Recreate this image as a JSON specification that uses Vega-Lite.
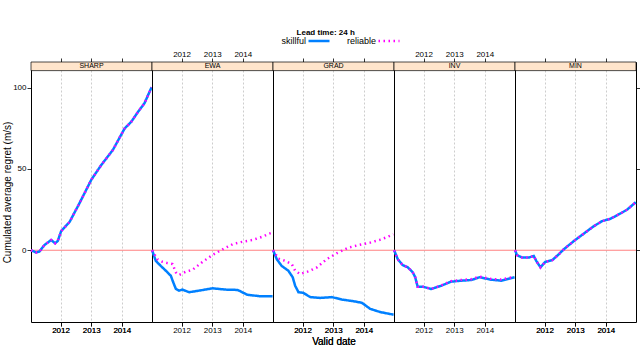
{
  "$schema": "https://vega.github.io/schema/vega-lite/v6.json",
  "autosize": {"type": "pad"},
  "padding": {"left": 2, "top": 29, "right": 0, "bottom": 0},
  "title": {"text": "Lead time: 24 h", "font": "Liberation Sans", "fontSize": 8, "fontWeight": "bold", "color": "#000", "anchor": "middle", "dx": 4, "offset": -8},
  "datasets": {
    "main": [
      {"m":"SHARP","t":"skillful","d":"2011-01-15","v":0},
      {"m":"SHARP","t":"skillful","d":"2011-03-16","v":-1.4},
      {"m":"SHARP","t":"skillful","d":"2011-04-24","v":-0.8},
      {"m":"SHARP","t":"skillful","d":"2011-06-23","v":3.2},
      {"m":"SHARP","t":"skillful","d":"2011-09-11","v":6.3},
      {"m":"SHARP","t":"skillful","d":"2011-10-29","v":4.3},
      {"m":"SHARP","t":"skillful","d":"2011-11-29","v":5.7},
      {"m":"SHARP","t":"skillful","d":"2012-01-09","v":11.8},
      {"m":"SHARP","t":"skillful","d":"2012-04-17","v":17.3},
      {"m":"SHARP","t":"skillful","d":"2012-08-15","v":29},
      {"m":"SHARP","t":"skillful","d":"2013-01-02","v":43.3},
      {"m":"SHARP","t":"skillful","d":"2013-05-01","v":52.4},
      {"m":"SHARP","t":"skillful","d":"2013-09-16","v":61.6},
      {"m":"SHARP","t":"skillful","d":"2014-02-03","v":74.8},
      {"m":"SHARP","t":"skillful","d":"2014-04-23","v":78.9},
      {"m":"SHARP","t":"skillful","d":"2014-07-11","v":84.9},
      {"m":"SHARP","t":"skillful","d":"2014-09-29","v":90.4},
      {"m":"SHARP","t":"skillful","d":"2014-12-22","v":100.2},
      {"m":"SHARP","t":"reliable","d":"2011-01-15","v":0},
      {"m":"SHARP","t":"reliable","d":"2011-03-16","v":-1.4},
      {"m":"SHARP","t":"reliable","d":"2011-04-24","v":-0.8},
      {"m":"SHARP","t":"reliable","d":"2011-06-23","v":3.2},
      {"m":"SHARP","t":"reliable","d":"2011-09-11","v":6.3},
      {"m":"SHARP","t":"reliable","d":"2011-10-29","v":4.3},
      {"m":"SHARP","t":"reliable","d":"2011-11-29","v":5.7},
      {"m":"SHARP","t":"reliable","d":"2012-01-09","v":11.8},
      {"m":"SHARP","t":"reliable","d":"2012-04-17","v":17.3},
      {"m":"SHARP","t":"reliable","d":"2012-08-15","v":29},
      {"m":"SHARP","t":"reliable","d":"2013-01-02","v":43.3},
      {"m":"SHARP","t":"reliable","d":"2013-05-01","v":52.4},
      {"m":"SHARP","t":"reliable","d":"2013-09-16","v":61.6},
      {"m":"SHARP","t":"reliable","d":"2014-02-03","v":74.8},
      {"m":"SHARP","t":"reliable","d":"2014-04-23","v":78.9},
      {"m":"SHARP","t":"reliable","d":"2014-07-11","v":84.9},
      {"m":"SHARP","t":"reliable","d":"2014-09-29","v":90.4},
      {"m":"SHARP","t":"reliable","d":"2014-12-22","v":100.2},

      {"m":"EWA","t":"skillful","d":"2011-01-15","v":0},
      {"m":"EWA","t":"skillful","d":"2011-02-28","v":-6.5},
      {"m":"EWA","t":"skillful","d":"2011-04-28","v":-9.6},
      {"m":"EWA","t":"skillful","d":"2011-06-28","v":-12.6},
      {"m":"EWA","t":"skillful","d":"2011-08-27","v":-15.7},
      {"m":"EWA","t":"skillful","d":"2011-09-24","v":-19.7},
      {"m":"EWA","t":"skillful","d":"2011-10-26","v":-23.8},
      {"m":"EWA","t":"skillful","d":"2011-12-03","v":-24.8},
      {"m":"EWA","t":"skillful","d":"2012-01-12","v":-24.2},
      {"m":"EWA","t":"skillful","d":"2012-04-01","v":-25.8},
      {"m":"EWA","t":"skillful","d":"2012-07-31","v":-24.8},
      {"m":"EWA","t":"skillful","d":"2013-01-06","v":-23.4},
      {"m":"EWA","t":"skillful","d":"2013-06-14","v":-24.2},
      {"m":"EWA","t":"skillful","d":"2013-10-30","v":-24.4},
      {"m":"EWA","t":"skillful","d":"2014-02-26","v":-27.4},
      {"m":"EWA","t":"skillful","d":"2014-07-16","v":-28.2},
      {"m":"EWA","t":"skillful","d":"2014-12-22","v":-28.2},
      {"m":"EWA","t":"reliable","d":"2011-01-15","v":0},
      {"m":"EWA","t":"reliable","d":"2011-03-19","v":-5.5},
      {"m":"EWA","t":"reliable","d":"2011-05-19","v":-7.1},
      {"m":"EWA","t":"reliable","d":"2011-07-16","v":-7.9},
      {"m":"EWA","t":"reliable","d":"2011-09-16","v":-8.5},
      {"m":"EWA","t":"reliable","d":"2011-10-26","v":-13.6},
      {"m":"EWA","t":"reliable","d":"2011-12-03","v":-15.2},
      {"m":"EWA","t":"reliable","d":"2012-02-20","v":-13.2},
      {"m":"EWA","t":"reliable","d":"2012-05-11","v":-12},
      {"m":"EWA","t":"reliable","d":"2012-09-09","v":-7.1},
      {"m":"EWA","t":"reliable","d":"2013-01-06","v":-2.9},
      {"m":"EWA","t":"reliable","d":"2013-05-05","v":0.6},
      {"m":"EWA","t":"reliable","d":"2013-09-02","v":3.7},
      {"m":"EWA","t":"reliable","d":"2013-12-09","v":5.0},
      {"m":"EWA","t":"reliable","d":"2014-04-27","v":6.3},
      {"m":"EWA","t":"reliable","d":"2014-08-26","v":8.4},
      {"m":"EWA","t":"reliable","d":"2014-11-10","v":10.2},
      {"m":"EWA","t":"reliable","d":"2014-12-20","v":10.9},

      {"m":"GRAD","t":"skillful","d":"2011-01-15","v":0},
      {"m":"GRAD","t":"skillful","d":"2011-02-28","v":-5.5},
      {"m":"GRAD","t":"skillful","d":"2011-04-27","v":-9.6},
      {"m":"GRAD","t":"skillful","d":"2011-07-16","v":-12.6},
      {"m":"GRAD","t":"skillful","d":"2011-09-06","v":-16.6},
      {"m":"GRAD","t":"skillful","d":"2011-10-05","v":-21.8},
      {"m":"GRAD","t":"skillful","d":"2011-11-14","v":-25.8},
      {"m":"GRAD","t":"skillful","d":"2012-01-11","v":-26.2},
      {"m":"GRAD","t":"skillful","d":"2012-04-02","v":-28.8},
      {"m":"GRAD","t":"skillful","d":"2012-07-31","v":-29.3},
      {"m":"GRAD","t":"skillful","d":"2012-12-17","v":-28.8},
      {"m":"GRAD","t":"skillful","d":"2013-04-13","v":-30.3},
      {"m":"GRAD","t":"skillful","d":"2013-08-29","v":-31.3},
      {"m":"GRAD","t":"skillful","d":"2013-12-09","v":-32.3},
      {"m":"GRAD","t":"skillful","d":"2014-03-18","v":-36},
      {"m":"GRAD","t":"skillful","d":"2014-07-16","v":-38},
      {"m":"GRAD","t":"skillful","d":"2014-12-22","v":-39.6},
      {"m":"GRAD","t":"reliable","d":"2011-01-15","v":0},
      {"m":"GRAD","t":"reliable","d":"2011-03-18","v":-5.1},
      {"m":"GRAD","t":"reliable","d":"2011-06-07","v":-6.5},
      {"m":"GRAD","t":"reliable","d":"2011-08-26","v":-8.5},
      {"m":"GRAD","t":"reliable","d":"2011-10-05","v":-12.6},
      {"m":"GRAD","t":"reliable","d":"2011-12-02","v":-14.6},
      {"m":"GRAD","t":"reliable","d":"2012-03-11","v":-13},
      {"m":"GRAD","t":"reliable","d":"2012-06-21","v":-10.5},
      {"m":"GRAD","t":"reliable","d":"2012-10-16","v":-5.5},
      {"m":"GRAD","t":"reliable","d":"2013-02-14","v":-1.8},
      {"m":"GRAD","t":"reliable","d":"2013-07-02","v":1.6},
      {"m":"GRAD","t":"reliable","d":"2013-10-31","v":3.2},
      {"m":"GRAD","t":"reliable","d":"2014-03-18","v":4.7},
      {"m":"GRAD","t":"reliable","d":"2014-07-16","v":6.5},
      {"m":"GRAD","t":"reliable","d":"2014-10-01","v":8},
      {"m":"GRAD","t":"reliable","d":"2014-12-20","v":9.8},

      {"m":"INV","t":"skillful","d":"2011-01-15","v":0},
      {"m":"INV","t":"skillful","d":"2011-02-28","v":-5.5},
      {"m":"INV","t":"skillful","d":"2011-04-27","v":-9.1},
      {"m":"INV","t":"skillful","d":"2011-06-28","v":-10.5},
      {"m":"INV","t":"skillful","d":"2011-08-26","v":-13.6},
      {"m":"INV","t":"skillful","d":"2011-09-24","v":-16.6},
      {"m":"INV","t":"skillful","d":"2011-10-23","v":-22.4},
      {"m":"INV","t":"skillful","d":"2011-12-24","v":-22.4},
      {"m":"INV","t":"skillful","d":"2012-04-02","v":-23.8},
      {"m":"INV","t":"skillful","d":"2012-07-31","v":-21.8},
      {"m":"INV","t":"skillful","d":"2012-11-24","v":-19.3},
      {"m":"INV","t":"skillful","d":"2013-03-26","v":-18.7},
      {"m":"INV","t":"skillful","d":"2013-07-24","v":-18.3},
      {"m":"INV","t":"skillful","d":"2013-10-31","v":-16.6},
      {"m":"INV","t":"skillful","d":"2014-03-18","v":-18.1},
      {"m":"INV","t":"skillful","d":"2014-07-16","v":-18.7},
      {"m":"INV","t":"skillful","d":"2014-12-22","v":-16.6},
      {"m":"INV","t":"reliable","d":"2011-01-15","v":0},
      {"m":"INV","t":"reliable","d":"2011-02-28","v":-5.5},
      {"m":"INV","t":"reliable","d":"2011-04-27","v":-9.1},
      {"m":"INV","t":"reliable","d":"2011-06-28","v":-10.5},
      {"m":"INV","t":"reliable","d":"2011-08-26","v":-13.6},
      {"m":"INV","t":"reliable","d":"2011-09-24","v":-16.6},
      {"m":"INV","t":"reliable","d":"2011-10-23","v":-22.4},
      {"m":"INV","t":"reliable","d":"2011-12-24","v":-22.4},
      {"m":"INV","t":"reliable","d":"2012-04-02","v":-23.8},
      {"m":"INV","t":"reliable","d":"2012-07-31","v":-21.6},
      {"m":"INV","t":"reliable","d":"2012-11-24","v":-19.0},
      {"m":"INV","t":"reliable","d":"2013-03-26","v":-18.3},
      {"m":"INV","t":"reliable","d":"2013-07-24","v":-17.8},
      {"m":"INV","t":"reliable","d":"2013-10-31","v":-16.2},
      {"m":"INV","t":"reliable","d":"2014-03-18","v":-17.6},
      {"m":"INV","t":"reliable","d":"2014-07-16","v":-18.0},
      {"m":"INV","t":"reliable","d":"2014-12-22","v":-16.2},

      {"m":"MIN","t":"skillful","d":"2011-01-15","v":0},
      {"m":"MIN","t":"skillful","d":"2011-02-06","v":-3},
      {"m":"MIN","t":"skillful","d":"2011-04-09","v":-4.5},
      {"m":"MIN","t":"skillful","d":"2011-06-28","v":-4.5},
      {"m":"MIN","t":"skillful","d":"2011-08-26","v":-3.5},
      {"m":"MIN","t":"skillful","d":"2011-09-24","v":-6.5},
      {"m":"MIN","t":"skillful","d":"2011-11-14","v":-10.5},
      {"m":"MIN","t":"skillful","d":"2012-01-11","v":-7.1},
      {"m":"MIN","t":"skillful","d":"2012-04-02","v":-6.1},
      {"m":"MIN","t":"skillful","d":"2012-06-21","v":-2.4},
      {"m":"MIN","t":"skillful","d":"2012-08-18","v":0.6},
      {"m":"MIN","t":"skillful","d":"2012-12-17","v":5.7},
      {"m":"MIN","t":"skillful","d":"2013-04-13","v":10.2},
      {"m":"MIN","t":"skillful","d":"2013-08-11","v":14.8},
      {"m":"MIN","t":"skillful","d":"2013-11-18","v":17.9},
      {"m":"MIN","t":"skillful","d":"2014-02-24","v":19.3},
      {"m":"MIN","t":"skillful","d":"2014-06-25","v":22.6},
      {"m":"MIN","t":"skillful","d":"2014-09-13","v":25},
      {"m":"MIN","t":"skillful","d":"2014-12-24","v":29.5},
      {"m":"MIN","t":"reliable","d":"2011-01-15","v":0},
      {"m":"MIN","t":"reliable","d":"2011-02-06","v":-3},
      {"m":"MIN","t":"reliable","d":"2011-04-09","v":-4.5},
      {"m":"MIN","t":"reliable","d":"2011-06-28","v":-4.5},
      {"m":"MIN","t":"reliable","d":"2011-08-26","v":-3.5},
      {"m":"MIN","t":"reliable","d":"2011-09-24","v":-6.5},
      {"m":"MIN","t":"reliable","d":"2011-11-14","v":-10.5},
      {"m":"MIN","t":"reliable","d":"2012-01-11","v":-7.1},
      {"m":"MIN","t":"reliable","d":"2012-04-02","v":-6.1},
      {"m":"MIN","t":"reliable","d":"2012-06-21","v":-2.4},
      {"m":"MIN","t":"reliable","d":"2012-08-18","v":0.6},
      {"m":"MIN","t":"reliable","d":"2012-12-17","v":5.7},
      {"m":"MIN","t":"reliable","d":"2013-04-13","v":10.2},
      {"m":"MIN","t":"reliable","d":"2013-08-11","v":14.8},
      {"m":"MIN","t":"reliable","d":"2013-11-18","v":17.9},
      {"m":"MIN","t":"reliable","d":"2014-02-24","v":19.3},
      {"m":"MIN","t":"reliable","d":"2014-06-25","v":22.6},
      {"m":"MIN","t":"reliable","d":"2014-09-13","v":25},
      {"m":"MIN","t":"reliable","d":"2014-12-24","v":29.5}
    ]
  },
  "data": {"name": "main"},
  "spacing": 0,
  "bounds": "flush",
  "resolve": {"scale": {"color": "shared", "strokeDash": "shared"}, "legend": {"color": "shared", "strokeDash": "shared"}},
  "hconcat": [
    {
      "width": 121, "height": 260,
      "layer": [
        {"data": {"values": [{"label": "SHARP"}]},
         "mark": {"type": "rect", "fill": "#ffe5cc", "stroke": "#000", "strokeWidth": 0.7},
         "encoding": {
           "x": {"datum": {"year": 2011, "month": 1, "date": 14, "utc": true}, "type": "temporal",
                 "scale": {"type": "utc", "domain": [{"year": 2011, "month": 1, "date": 14, "utc": true}, {"year": 2014, "month": 12, "date": 27, "utc": true}]},
                 "axis": {"orient": "top", "labels": false, "title": null, "grid": false, "values": [{"year": 2012, "month": 1, "date": 1, "utc": true}, {"year": 2013, "month": 1, "date": 1, "utc": true}, {"year": 2014, "month": 1, "date": 1, "utc": true}]}},
           "x2": {"datum": {"year": 2014, "month": 12, "date": 27, "utc": true}},
           "y": {"datum": 110.4, "type": "quantitative", "scale": {"domain": [-44.1, 115.7], "nice": false, "zero": false},
                 "axis": {"orient": "left", "values": [0, 50, 100], "title": "Cumulated average regret (m/s)", "titlePadding": 0, "labelPadding": 1}},
           "y2": {"datum": 115.7}
         }},
        {"data": {"values": [{"label": "SHARP"}]},
         "mark": {"type": "text", "font": "Liberation Sans", "fontSize": 7, "color": "#000", "baseline": "middle"},
         "encoding": {"text": {"field": "label"}, "y": {"datum": 113.05, "type": "quantitative"}}},
        {"data": {"values": [{}]},
         "mark": {"type": "rule", "color": "#ff8080", "strokeWidth": 1},
         "encoding": {"y": {"datum": 0, "type": "quantitative"}}},
        {"transform": [{"filter": "datum.m === 'SHARP' && datum.t === 'skillful'"}],
         "mark": {"type": "line", "strokeWidth": 2.5},
         "encoding": {
           "x": {"field": "d", "type": "temporal", "title": null, "axis": {"orient": "bottom", "title": null, "format": "%Y", "grid": true, "values": [{"year": 2012, "month": 1, "date": 1, "utc": true}, {"year": 2013, "month": 1, "date": 1, "utc": true}, {"year": 2014, "month": 1, "date": 1, "utc": true}]}},
           "y": {"field": "v", "type": "quantitative"},
           "color": {"field": "t", "type": "nominal", "title": null, "scale": {"domain": ["skillful", "reliable"], "range": ["#0080ff", "#ff00ff"]}},
           "strokeDash": {"field": "t", "type": "nominal", "title": null, "scale": {"domain": ["skillful", "reliable"], "range": [[1, 0], [1.5, 3.5]]}}
         }},
        {"transform": [{"filter": "datum.m === 'SHARP' && datum.t === 'reliable'"}],
         "mark": {"type": "line", "strokeWidth": 2.5},
         "encoding": {
           "x": {"field": "d", "type": "temporal", "title": null},
           "y": {"field": "v", "type": "quantitative"},
           "color": {"field": "t", "type": "nominal", "title": null},
           "strokeDash": {"field": "t", "type": "nominal", "title": null}
         }}
      ]
    },
    {
      "width": 121, "height": 260,
      "layer": [
        {"data": {"values": [{"label": "EWA"}]},
         "mark": {"type": "rect", "fill": "#ffe5cc", "stroke": "#000", "strokeWidth": 0.7},
         "encoding": {
           "x": {"datum": {"year": 2011, "month": 1, "date": 14, "utc": true}, "type": "temporal",
                 "scale": {"type": "utc", "domain": [{"year": 2011, "month": 1, "date": 14, "utc": true}, {"year": 2014, "month": 12, "date": 27, "utc": true}]},
                 "axis": {"orient": "top", "format": "%Y", "title": null, "grid": false, "values": [{"year": 2012, "month": 1, "date": 1, "utc": true}, {"year": 2013, "month": 1, "date": 1, "utc": true}, {"year": 2014, "month": 1, "date": 1, "utc": true}]}},
           "x2": {"datum": {"year": 2014, "month": 12, "date": 27, "utc": true}},
           "y": {"datum": 110.4, "type": "quantitative", "scale": {"domain": [-44.1, 115.7], "nice": false, "zero": false}, "axis": null},
           "y2": {"datum": 115.7}
         }},
        {"data": {"values": [{"label": "EWA"}]},
         "mark": {"type": "text", "font": "Liberation Sans", "fontSize": 7, "color": "#000", "baseline": "middle"},
         "encoding": {"text": {"field": "label"}, "y": {"datum": 113.05, "type": "quantitative", "axis": null}}},
        {"data": {"values": [{}]},
         "mark": {"type": "rule", "color": "#ff8080", "strokeWidth": 1},
         "encoding": {"y": {"datum": 0, "type": "quantitative", "axis": null}}},
        {"transform": [{"filter": "datum.m === 'EWA' && datum.t === 'skillful'"}],
         "mark": {"type": "line", "strokeWidth": 2.5},
         "encoding": {
           "x": {"field": "d", "type": "temporal", "title": null, "axis": {"orient": "bottom", "title": null, "labels": false, "grid": true, "values": [{"year": 2012, "month": 1, "date": 1, "utc": true}, {"year": 2013, "month": 1, "date": 1, "utc": true}, {"year": 2014, "month": 1, "date": 1, "utc": true}]}},
           "y": {"field": "v", "type": "quantitative", "axis": null},
           "color": {"field": "t", "type": "nominal", "title": null, "scale": {"domain": ["skillful", "reliable"], "range": ["#0080ff", "#ff00ff"]}},
           "strokeDash": {"field": "t", "type": "nominal", "title": null, "scale": {"domain": ["skillful", "reliable"], "range": [[1, 0], [1.5, 3.5]]}}
         }},
        {"transform": [{"filter": "datum.m === 'EWA' && datum.t === 'reliable'"}],
         "mark": {"type": "line", "strokeWidth": 2.5},
         "encoding": {
           "x": {"field": "d", "type": "temporal", "title": null},
           "y": {"field": "v", "type": "quantitative", "axis": null},
           "color": {"field": "t", "type": "nominal", "title": null},
           "strokeDash": {"field": "t", "type": "nominal", "title": null}
         }}
      ]
    },
    {
      "width": 121, "height": 260,
      "layer": [
        {"data": {"values": [{"label": "GRAD"}]},
         "mark": {"type": "rect", "fill": "#ffe5cc", "stroke": "#000", "strokeWidth": 0.7},
         "encoding": {
           "x": {"datum": {"year": 2011, "month": 1, "date": 14, "utc": true}, "type": "temporal",
                 "scale": {"type": "utc", "domain": [{"year": 2011, "month": 1, "date": 14, "utc": true}, {"year": 2014, "month": 12, "date": 27, "utc": true}]},
                 "axis": {"orient": "top", "labels": false, "title": null, "grid": false, "values": [{"year": 2012, "month": 1, "date": 1, "utc": true}, {"year": 2013, "month": 1, "date": 1, "utc": true}, {"year": 2014, "month": 1, "date": 1, "utc": true}]}},
           "x2": {"datum": {"year": 2014, "month": 12, "date": 27, "utc": true}},
           "y": {"datum": 110.4, "type": "quantitative", "scale": {"domain": [-44.1, 115.7], "nice": false, "zero": false}, "axis": null},
           "y2": {"datum": 115.7}
         }},
        {"data": {"values": [{"label": "GRAD"}]},
         "mark": {"type": "text", "font": "Liberation Sans", "fontSize": 7, "color": "#000", "baseline": "middle"},
         "encoding": {"text": {"field": "label"}, "y": {"datum": 113.05, "type": "quantitative", "axis": null}}},
        {"data": {"values": [{}]},
         "mark": {"type": "rule", "color": "#ff8080", "strokeWidth": 1},
         "encoding": {"y": {"datum": 0, "type": "quantitative", "axis": null}}},
        {"transform": [{"filter": "datum.m === 'GRAD' && datum.t === 'skillful'"}],
         "mark": {"type": "line", "strokeWidth": 2.5},
         "encoding": {
           "x": {"field": "d", "type": "temporal", "title": "Valid date", "axis": {"orient": "bottom", "title": "Valid date", "format": "%Y", "grid": true, "values": [{"year": 2012, "month": 1, "date": 1, "utc": true}, {"year": 2013, "month": 1, "date": 1, "utc": true}, {"year": 2014, "month": 1, "date": 1, "utc": true}]}},
           "y": {"field": "v", "type": "quantitative", "axis": null},
           "color": {"field": "t", "type": "nominal", "title": null, "scale": {"domain": ["skillful", "reliable"], "range": ["#0080ff", "#ff00ff"]}},
           "strokeDash": {"field": "t", "type": "nominal", "title": null, "scale": {"domain": ["skillful", "reliable"], "range": [[1, 0], [1.5, 3.5]]}}
         }},
        {"transform": [{"filter": "datum.m === 'GRAD' && datum.t === 'reliable'"}],
         "mark": {"type": "line", "strokeWidth": 2.5},
         "encoding": {
           "x": {"field": "d", "type": "temporal", "title": "Valid date"},
           "y": {"field": "v", "type": "quantitative", "axis": null},
           "color": {"field": "t", "type": "nominal", "title": null},
           "strokeDash": {"field": "t", "type": "nominal", "title": null}
         }}
      ]
    },
    {
      "width": 121, "height": 260,
      "layer": [
        {"data": {"values": [{"label": "INV"}]},
         "mark": {"type": "rect", "fill": "#ffe5cc", "stroke": "#000", "strokeWidth": 0.7},
         "encoding": {
           "x": {"datum": {"year": 2011, "month": 1, "date": 14, "utc": true}, "type": "temporal",
                 "scale": {"type": "utc", "domain": [{"year": 2011, "month": 1, "date": 14, "utc": true}, {"year": 2014, "month": 12, "date": 27, "utc": true}]},
                 "axis": {"orient": "top", "format": "%Y", "title": null, "grid": false, "values": [{"year": 2012, "month": 1, "date": 1, "utc": true}, {"year": 2013, "month": 1, "date": 1, "utc": true}, {"year": 2014, "month": 1, "date": 1, "utc": true}]}},
           "x2": {"datum": {"year": 2014, "month": 12, "date": 27, "utc": true}},
           "y": {"datum": 110.4, "type": "quantitative", "scale": {"domain": [-44.1, 115.7], "nice": false, "zero": false}, "axis": null},
           "y2": {"datum": 115.7}
         }},
        {"data": {"values": [{"label": "INV"}]},
         "mark": {"type": "text", "font": "Liberation Sans", "fontSize": 7, "color": "#000", "baseline": "middle"},
         "encoding": {"text": {"field": "label"}, "y": {"datum": 113.05, "type": "quantitative", "axis": null}}},
        {"data": {"values": [{}]},
         "mark": {"type": "rule", "color": "#ff8080", "strokeWidth": 1},
         "encoding": {"y": {"datum": 0, "type": "quantitative", "axis": null}}},
        {"transform": [{"filter": "datum.m === 'INV' && datum.t === 'skillful'"}],
         "mark": {"type": "line", "strokeWidth": 2.5},
         "encoding": {
           "x": {"field": "d", "type": "temporal", "title": null, "axis": {"orient": "bottom", "title": null, "labels": false, "grid": true, "values": [{"year": 2012, "month": 1, "date": 1, "utc": true}, {"year": 2013, "month": 1, "date": 1, "utc": true}, {"year": 2014, "month": 1, "date": 1, "utc": true}]}},
           "y": {"field": "v", "type": "quantitative", "axis": null},
           "color": {"field": "t", "type": "nominal", "title": null, "scale": {"domain": ["skillful", "reliable"], "range": ["#0080ff", "#ff00ff"]}},
           "strokeDash": {"field": "t", "type": "nominal", "title": null, "scale": {"domain": ["skillful", "reliable"], "range": [[1, 0], [1.5, 3.5]]}}
         }},
        {"transform": [{"filter": "datum.m === 'INV' && datum.t === 'reliable'"}],
         "mark": {"type": "line", "strokeWidth": 2.5},
         "encoding": {
           "x": {"field": "d", "type": "temporal", "title": null},
           "y": {"field": "v", "type": "quantitative", "axis": null},
           "color": {"field": "t", "type": "nominal", "title": null},
           "strokeDash": {"field": "t", "type": "nominal", "title": null}
         }}
      ]
    },
    {
      "width": 121, "height": 260,
      "layer": [
        {"data": {"values": [{"label": "MIN"}]},
         "mark": {"type": "rect", "fill": "#ffe5cc", "stroke": "#000", "strokeWidth": 0.7},
         "encoding": {
           "x": {"datum": {"year": 2011, "month": 1, "date": 14, "utc": true}, "type": "temporal",
                 "scale": {"type": "utc", "domain": [{"year": 2011, "month": 1, "date": 14, "utc": true}, {"year": 2014, "month": 12, "date": 27, "utc": true}]},
                 "axis": {"orient": "top", "labels": false, "title": null, "grid": false, "values": [{"year": 2012, "month": 1, "date": 1, "utc": true}, {"year": 2013, "month": 1, "date": 1, "utc": true}, {"year": 2014, "month": 1, "date": 1, "utc": true}]}},
           "x2": {"datum": {"year": 2014, "month": 12, "date": 27, "utc": true}},
           "y": {"datum": 110.4, "type": "quantitative", "scale": {"domain": [-44.1, 115.7], "nice": false, "zero": false},
                 "axis": {"orient": "right", "values": [0, 50, 100], "labels": false, "title": null}},
           "y2": {"datum": 115.7}
         }},
        {"data": {"values": [{"label": "MIN"}]},
         "mark": {"type": "text", "font": "Liberation Sans", "fontSize": 7, "color": "#000", "baseline": "middle"},
         "encoding": {"text": {"field": "label"}, "y": {"datum": 113.05, "type": "quantitative"}}},
        {"data": {"values": [{}]},
         "mark": {"type": "rule", "color": "#ff8080", "strokeWidth": 1},
         "encoding": {"y": {"datum": 0, "type": "quantitative"}}},
        {"transform": [{"filter": "datum.m === 'MIN' && datum.t === 'skillful'"}],
         "mark": {"type": "line", "strokeWidth": 2.5},
         "encoding": {
           "x": {"field": "d", "type": "temporal", "title": null, "axis": {"orient": "bottom", "title": null, "format": "%Y", "grid": true, "values": [{"year": 2012, "month": 1, "date": 1, "utc": true}, {"year": 2013, "month": 1, "date": 1, "utc": true}, {"year": 2014, "month": 1, "date": 1, "utc": true}]}},
           "y": {"field": "v", "type": "quantitative"},
           "color": {"field": "t", "type": "nominal", "title": null, "scale": {"domain": ["skillful", "reliable"], "range": ["#0080ff", "#ff00ff"]}},
           "strokeDash": {"field": "t", "type": "nominal", "title": null, "scale": {"domain": ["skillful", "reliable"], "range": [[1, 0], [1.5, 3.5]]}}
         }},
        {"transform": [{"filter": "datum.m === 'MIN' && datum.t === 'reliable'"}],
         "mark": {"type": "line", "strokeWidth": 2.5},
         "encoding": {
           "x": {"field": "d", "type": "temporal", "title": null},
           "y": {"field": "v", "type": "quantitative"},
           "color": {"field": "t", "type": "nominal", "title": null},
           "strokeDash": {"field": "t", "type": "nominal", "title": null}
         }}
      ]
    }
  ],
  "config": {
    "view": {"stroke": "#000", "strokeWidth": 1},
    "axis": {"domain": false, "tickColor": "#000", "tickSize": 4, "tickWidth": 0.8, "labelFont": "Liberation Sans", "labelFontSize": 8, "labelColor": "#000", "labelPadding": 0, "titleFont": "Liberation Sans", "titleFontSize": 10, "titleFontWeight": "normal", "titleColor": "#000", "titlePadding": 2, "gridDash": [2, 2], "gridColor": "#c0c0c0", "gridWidth": 0.8},
    "legend": {"orient": "none", "legendX": 276, "legendY": -33, "direction": "horizontal", "labelFont": "Liberation Sans", "labelFontSize": 9, "labelColor": "#000", "labelAlign": "right", "labelOffset": -25, "symbolType": "stroke", "symbolStrokeWidth": 2.5, "symbolSize": 441, "columnPadding": 11}
  }
}
